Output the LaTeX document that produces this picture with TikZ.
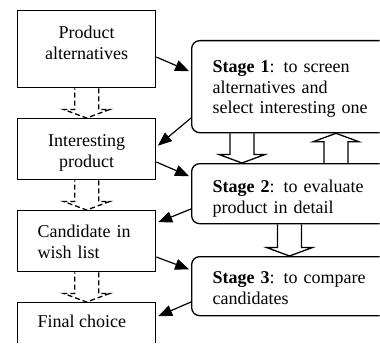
\documentclass[tikz,border=0pt]{standalone}
\usepackage{fontspec}
\setmainfont{Liberation Serif}
\usetikzlibrary{arrows.meta,calc}

% hollow block arrow from #2 to #3, tip at #3
\newcommand{\hollowarrow}[3][]{%
  \path ($(#3)!8.5pt!(#2)$) coordinate (hb);
  \draw[hollow,#1] ($(#2)!12pt!90:(#3)$) -- ($(hb)!12pt!90:(#3)$) -- ($(hb)!23pt!90:(#3)$)
    -- (#3) -- ($(hb)!23pt!-90:(#3)$) -- ($(hb)!12pt!-90:(#3)$) -- ($(#2)!12pt!-90:(#3)$);
}

\begin{document}
\begin{tikzpicture}[x=1pt, y=-1pt, font=\fontsize{18}{20.5}\selectfont]
    \tikzset{
      productbox/.style={draw, line width=1.3pt, anchor=north west, inner ysep=0pt,
        text height=28pt, text width=138pt, inner xsep=0pt, align=center},
      productboxleft/.style={productbox, align=left, text width=98pt, inner xsep=20pt},
      stagebox/.style={draw, line width=1.3pt, rounded corners=8pt, anchor=north west,
        inner ysep=0pt, text height=28pt, text width=180pt, inner xsep=21pt, align=left},
      flowarrow/.style={line width=1.2pt, -{Triangle[length=14pt,width=11pt]}, shorten >=2pt},
      hollow/.style={line width=1.3pt, line join=miter},
      hollowdashed/.style={dash pattern=on 5pt off 3pt}
    }
    \path[use as bounding box] (0,0) rectangle (380,345);
    \clip (-10,-10) rectangle (379.5,342);

    \node[productbox, text depth=49pt] (p1) at (17,10) {Product\\alternatives};
    \node[productbox, text depth=33pt] (p2) at (17,118) {Interesting\\product};
    \node[productboxleft, text height=27pt, text depth=34pt] (p3) at (17,210) {Candidate in\\wish list};
    \node[draw, line width=1.3pt, anchor=north west, inner ysep=0pt, inner xsep=20pt,
      text height=25pt, text depth=80pt] (p4) at (17,302) {\makebox[98pt][l]{Final choice}};

    \node[stagebox, text height=32pt, text depth=60pt] (s1) at (191,40)
      {\textbf{Stage 1}: to screen\\alternatives and\\select interesting one};
    \node[stagebox, text height=29pt, text depth=31pt] (s2) at (191,163)
      {\textbf{Stage 2}: to evaluate\\product in detail};
    \node[stagebox, text height=27pt, text depth=32pt] (s3) at (191,256)
      {\textbf{Stage 3}: to compare\\candidates};

    \hollowarrow[hollowdashed]{p1.south}{p2.north}
    \hollowarrow[hollowdashed]{p2.south}{p3.north}
    \hollowarrow[hollowdashed]{p3.south}{p4.north}

    \coordinate (down1) at ($(s1.south west)+(51,0)$);
    \coordinate (up1) at ($(s1.south west)+(145,0)$);
    \coordinate (down2) at ($(s2.south west)+(98.5,0)$);
    \hollowarrow{down1}{down1 |- s2.north}
    \hollowarrow{up1 |- s2.north}{up1}
    \hollowarrow{down2}{down2 |- s3.north}

    \draw[flowarrow] ($(p1.north east)+(0,47)$) -- ($(s1.north west)+(0,32)$);
    \draw[flowarrow] ($(s1.north west)+(0,78)$) -- ($(p2.north east)+(0,29)$);
    \draw[flowarrow] ($(p2.north east)+(0,44)$) -- ($(s2.north west)+(0,14)$);
    \draw[flowarrow] ($(s2.north west)+(0,46)$) -- ($(p3.north east)+(0,13)$);
    \draw[flowarrow] ($(p3.north east)+(0,47)$) -- ($(s3.north west)+(0,14)$);
    \draw[flowarrow] ($(s3.north west)+(0,46)$) -- ($(p4.north east)+(0,15)$);
\end{tikzpicture}
\end{document}
